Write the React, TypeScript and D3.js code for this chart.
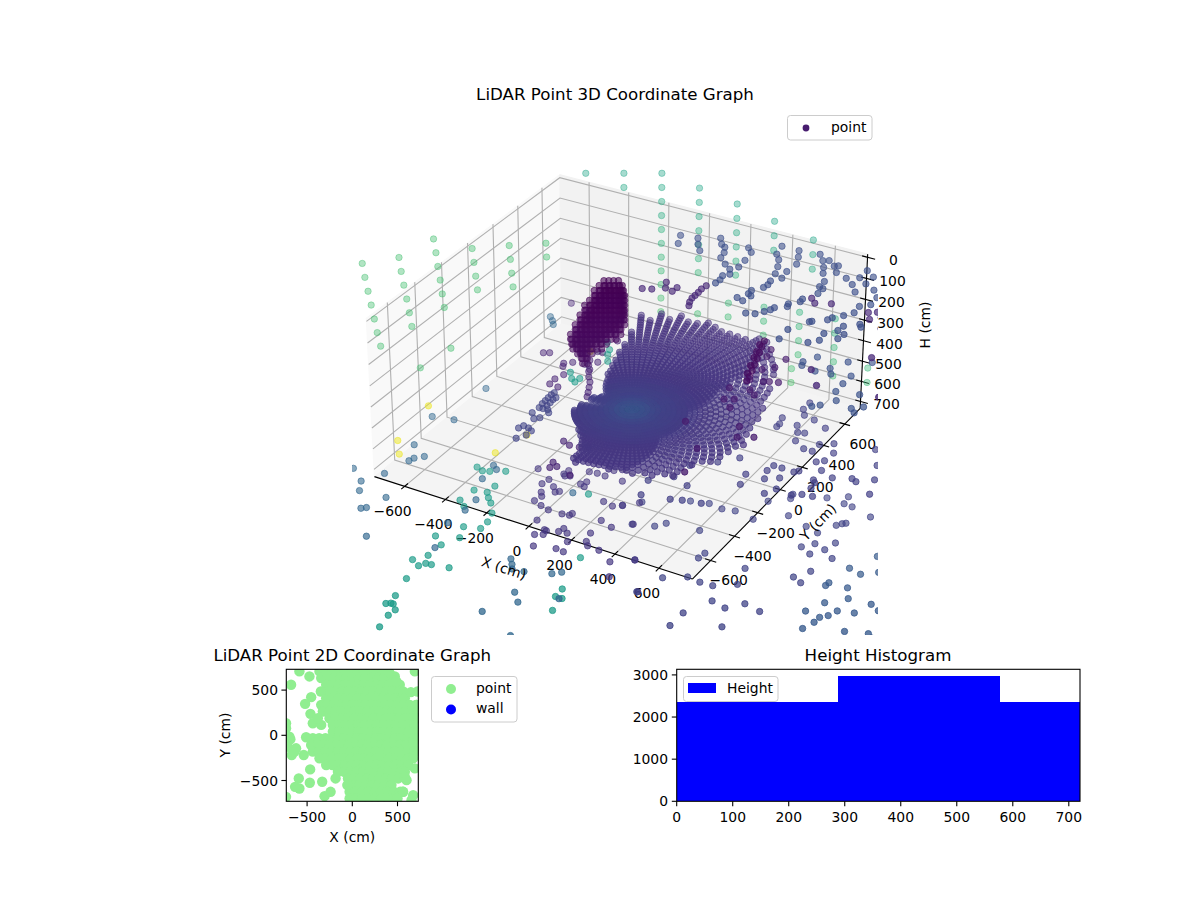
import React, {useEffect, useRef} from 'react'
import * as d3 from 'd3'

type P = [number, number, number]

const xTicks = [-600, -400, -200, 0, 200, 400, 600]
const yTicks = [-600, -400, -200, 0, 200, 400, 600]
const hTicks = [0, 100, 200, 300, 400, 500, 600, 700]

// far wall columns: x, y and the heights seen in that column
const backColX = [-694, -548, -402, -187, 29, 4, 245, 215, 467, 426, 403, 638, 838]
const backColY = [880, 965, 1049, 1003, 949, 934, 884, 866, 812, 788, 775, 699, 613]
const backColH = [
  [20],
  [20, 90],
  [20, 90, 160, 230, 300, 370, 440, 510, 580, 650, 720],
  [20, 90, 160, 230, 300, 370, 440, 650],
  [20, 90, 160, 230, 300, 370],
  [510, 580],
  [20, 90, 160],
  [440, 510, 580],
  [20, 90, 160],
  [370, 440, 510, 580],
  [650, 720],
  [300, 370, 440, 510, 580],
  [440, 510],
]

const leftWall: P[] = [
  [-1068, -319, 20], [-1061, -315, 86], [-1052, -310, 152], [-1043, -305, 218], [-1034, -300, 285], [-1026, -295, 351], [-1016, -289, 417],
  [-965, -198, 20], [-959, -195, 86], [-952, -190, 152], [-943, -186, 218], [-936, -181, 285], [-929, -177, 351],
  [-932, 15, 20], [-925, 19, 86], [-920, 22, 152], [-913, 26, 218], [-907, 29, 285], [-901, 32, 351],
  [-743, 23, 20], [-738, 26, 86], [-733, 29, 152], [-728, 32, 218],
  [-622, 124, 20], [-619, 126, 86], [-615, 128, 152], [-611, 130, 218],
  [-499, 220, 20], [-497, 221, 86],
  [-878, 38, 549], [-899, -170, 549],
]

const yellowFloor: P[] = [
  [-838, -209, 700], [-793, -511, 700], [-727, -598, 700], [-386, -389, 700], [-346, -202, 700], [-476, 543, 700],
]

// blue returns up near the ceiling
const upperScatter: P[] = [
  [-128, 727, 114], [-100, 656, 114], [-50, 741, 114], [-23, 692, 114], [12, 644, 114], [35, 790, 114], [65, 743, 114], [90, 725, 114],
  [111, 680, 114], [121, 631, 114], [164, 590, 114], [203, 559, 114], [226, 596, 114], [221, 662, 114], [224, 520, 114], [204, 493, 114],
  [212, 455, 114], [209, 421, 114], [181, 771, 114], [210, 740, 114], [298, 856, 114], [312, 780, 114], [343, 738, 114], [368, 681, 114],
  [421, 661, 114], [388, 619, 114], [430, 598, 114], [400, 552, 114], [406, 517, 114], [401, 487, 114], [380, 856, 114], [404, 802, 114],
  [427, 741, 114], [473, 871, 114], [509, 825, 114], [532, 839, 114], [539, 772, 114], [573, 805, 114], [587, 816, 114], [606, 758, 114],
  [561, 723, 114], [598, 661, 114], [665, 732, 114], [711, 695, 114], [712, 765, 114], [758, 729, 114], [712, 838, 114], [759, 799, 114],
  [811, 696, 114], [850, 643, 114], [750, 642, 114], [820, 539, 114], [825, 479, 114], [854, 576, 114], [601, 610, 114], [621, 601, 114],
  [622, 553, 114], [370, 438, 114], [372, 407, 114], [390, 395, 114], [347, 354, 114], [380, 341, 114], [440, 254, 114], [476, 268, 114],
  [500, 304, 114], [515, 330, 114], [521, 354, 114], [563, 389, 114], [556, 412, 114], [590, 453, 114], [588, 478, 114], [766, 396, 114],
  [757, 371, 114], [707, 328, 114], [700, 319, 114], [653, 218, 114], [658, 131, 114], [772, 163, 114], [804, 202, 114], [795, 261, 114],
  [863, 251, 114], [833, 312, 114], [837, 355, 114], [888, 403, 114], [902, 384, 114], [869, 295, 114], [798, 436, 114],
]

const rightEdge: P[] = [
  [645, 524, 398], [610, 459, 398], [620, 429, 398], [689, 414, 398], [733, 466, 398], [757, 425, 398], [775, 551, 398], [837, 452, 398], [835, 379, 398],
  [864, 598, 398], [934, 333, 398], [991, 252, 398], [838, 307, 398], [872, 242, 398], [831, 177, 398], [806, 151, 398], [953, 216, 398], [978, 191, 398],
]

const upperPurple: P[] = [
  [27, 324, 114], [49, 277, 114], [-33, 225, 114], [4, 241, 114], [87, 267, 114], [89, 305, 114],
  [187, 380, 114], [183, 345, 114], [186, 313, 114], [187, 283, 114], [187, 256, 114], [195, 222, 114], [208, 192, 114],
  [618, 503, 114], [648, 472, 114], [710, 501, 114], [875, 510, 114], [906, 531, 114], [939, 497, 114], [978, 414, 114], [904, 460, 114],
  [1048, 180, 114], [1138, 114, 114], [882, -26, 114], [956, -127, 114], [1207, -87, 114],
]

const streak: P[] = [
  [388, 535, 398], [402, 485, 398], [416, 436, 398], [431, 387, 398], [445, 337, 398], [460, 287, 398], [474, 238, 398], [480, 202, 398],
  [386, 496, 398], [402, 437, 398], [416, 387, 398], [435, 321, 398], [454, 256, 398],
]

const nearStreak: P[] = [
  [447, 483, 398], [530, 357, 398], [459, 422, 398], [539, 441, 398], [491, 316, 398], [486, 217, 398], [542, 229, 398], [564, 242, 398], [600, 254, 398],
  [445, 115, 398], [469, 23, 398], [505, 44, 398], [521, -24, 398], [417, -210, 398], [558, -369, 398], [600, -548, 398], [625, -137, 398], [656, -215, 398],
  [714, -181, 398], [525, 143, 398], [560, 115, 398],
]

const floorScatter: P[] = [
  [567, 630, 700], [567, 569, 700], [647, 513, 700], [718, 476, 700], [593, 527, 700], [521, 461, 700], [534, 411, 700], [534, 385, 700],
  [604, 437, 700], [632, 387, 700], [660, 397, 700], [655, 322, 700], [713, 283, 700], [753, 283, 700], [755, 346, 700], [805, 382, 700],
  [831, 241, 700], [805, 216, 700], [854, 167, 700], [858, 85, 700], [872, 68, 700], [918, 138, 700], [991, 173, 700], [1015, 160, 700],
  [1075, 211, 700], [878, 23, 700], [911, -29, 700], [867, -37, 700], [832, -64, 700], [758, -53, 700], [731, -107, 700], [614, -95, 700],
  [597, -15, 700], [660, 54, 700], [666, 102, 700], [704, 102, 700], [731, 29, 700], [680, -8, 700], [761, 99, 700], [775, 117, 700],
  [452, 11, 700], [516, 85, 700], [365, -70, 700], [350, -180, 700], [430, -213, 700], [272, -257, 700], [420, -337, 700], [466, -319, 700],
  [544, -301, 700], [301, -367, 700], [976, 427, 700], [1036, 317, 700], [1105, 102, 700], [837, 314, 700],
]

const lowerRight: P[] = [
  [653, 319, 965], [660, 284, 965], [302, 55, 965], [380, 78, 965], [446, 68, 965], [502, 82, 965], [128, -54, 965], [70, -118, 965],
  [177, -223, 965], [266, -189, 965], [297, -146, 965], [444, -124, 965], [597, 63, 965], [587, 218, 965], [713, 161, 965], [814, 125, 965],
  [877, 105, 965], [866, -22, 965], [920, -52, 965], [904, 27, 965], [959, 7, 965], [975, 74, 965], [1014, -36, 965], [980, -163, 965],
  [938, -235, 965], [982, -257, 965], [739, -278, 965], [766, -395, 965], [684, -453, 965], [544, -262, 965], [538, -306, 965], [566, -449, 965],
  [481, -505, 965], [319, -448, 965], [440, -644, 965], [627, -457, 965], [733, -549, 965], [801, -567, 965], [856, -501, 965], [932, -519, 965],
  [673, -680, 965], [670, -782, 965], [852, -687, 965], [787, -823, 965], [791, 366, 965], [874, 361, 965], [914, 356, 965], [866, 419, 965],
  [919, 195, 965], [935, 218, 965], [947, 230, 965], [1015, 324, 965],
]

const farLowerRight: P[] = [
  [1168, 71, 965], [1223, -32, 965], [1165, -81, 965], [1107, -64, 965], [1081, -200, 965], [1078, -224, 965], [1162, -195, 965], [1198, -262, 965],
  [1129, -335, 965], [1089, -425, 965], [1157, -436, 965], [1181, -408, 965], [1198, -361, 965], [1263, -340, 965], [1295, -252, 965], [1339, -278, 965],
  [1153, -477, 965], [1133, -538, 965], [1285, -473, 965], [1373, -440, 965], [1396, -460, 965],
]

const tealLeft: P[] = [
  [-625, -168, 965], [-589, -182, 965], [-559, -170, 965], [-500, -135, 965], [-477, -259, 965], [-537, -330, 965], [-479, -317, 965], [-452, -350, 965],
  [-421, -380, 965], [-546, -426, 965], [-505, -459, 965], [-375, -444, 965], [-355, -510, 965], [-422, -591, 965], [-353, -567, 965], [-391, -669, 965],
  [-485, -708, 965], [-428, -752, 965], [-432, -844, 965], [-470, -902, 965], [-424, -927, 965], [-408, -898, 965], [-383, -894, 965], [-308, -877, 965],
  [-415, -1029, 965], [-386, -1152, 965], [-372, -1205, 965], [-388, -1217, 965], [-361, -1205, 965], [-331, -1235, 965], [-334, -1280, 965], [-319, -1363, 965],
  [118, -546, 965], [170, -777, 965], [174, -836, 965], [204, -835, 965], [214, -925, 965], [-99, -114, 965],
  [-458, 341, 700], [-425, 297, 700], [-398, 279, 700], [-395, 315, 700], [-452, 652, 700], [-410, 599, 700], [-395, 557, 700], [-365, 506, 700],
]

const steelLeft: P[] = [
  [-1025, 89, 965], [-926, 114, 965], [-950, 416, 965], [-962, -150, 965], [-908, -272, 965], [-901, -243, 965], [-870, -209, 965], [-1081, -443, 965],
  [-942, -410, 965], [-994, -511, 965], [-957, -577, 965], [-829, -565, 965], [-873, -688, 965], [-856, -672, 965], [-732, -853, 965], [-496, -599, 965],
  [-439, -782, 965], [-571, -121, 965], [-542, -143, 965], [-555, -236, 965], [-489, -390, 965], [-485, -481, 965], [-25, -1071, 965], [160, -1155, 965],
  [16, -892, 965], [64, -945, 965], [-124, -696, 965], [-99, -728, 965], [-81, -756, 965], [-29, -748, 965], [77, -704, 965], [106, -675, 965],
  [194, -842, 965], [-162, -138, 965], [-794, 726, 700], [-767, 699, 700], [-745, 670, 700],
]

const indigoFront: P[] = [
  [-390, -48, 965], [-313, -142, 965], [-305, -98, 965], [-281, -201, 965], [-262, -228, 965], [-258, -138, 965], [-230, -171, 965], [-217, -157, 965],
  [-271, -272, 965], [-227, -291, 965], [-183, -304, 965], [-183, -395, 965], [-117, -302, 965], [-85, -295, 965], [-81, -278, 965], [-118, -442, 965],
  [-135, -493, 965], [-104, -475, 965], [-107, -445, 965], [-60, -424, 965], [-53, -394, 965], [-23, -417, 965], [11, -471, 965], [-94, -569, 965],
  [-3, -539, 965], [35, -544, 965], [78, -431, 965], [99, -456, 965], [156, -461, 965], [238, -512, 965], [290, -607, 965], [320, -450, 965],
  [443, -642, 965], [61, -368, 965], [-169, -62, 965], [-155, -34, 965], [-145, -72, 965], [-260, -40, 965], [-268, 5, 965], [-272, -29, 965],
  [-241, -29, 965], [-187, 42, 965], [-151, 48, 965], [-111, 46, 965], [-100, 103, 965], [-72, 127, 965], [-26, 47, 965], [-14, -132, 965],
  [36, -144, 965], [70, -118, 965], [51, -263, 965], [114, -287, 965], [181, -221, 965], [122, -64, 965],
]

const leftCluster: P[] = [
  [-419, 16, 700], [-425, 51, 700], [-427, 79, 700], [-429, 106, 700], [-431, 135, 700], [-428, 155, 700], [-401, 17, 700], [-399, 47, 700],
  [-400, 75, 700], [-403, 103, 700], [-400, 123, 700], [-379, 20, 700], [-423, -35, 700], [-391, -74, 700], [-373, -54, 700], [-362, 0, 700],
  [-398, -145, 700], [-407, -171, 700], [-371, -150, 700], [-348, -164, 700], [-349, -204, 700], [-372, -247, 700],
]

const darkNearBlob: P[] = [
  [-777, 882, 700], [-650, 429, 700], [-626, 443, 700], [-524, 394, 700], [-513, 369, 700], [-473, 309, 700], [-487, 258, 700], [-440, 205, 700], [-484, 210, 700],
  [-503, 863, 700], [-526, 929, 700], [-419, 685, 700], [-438, 474, 700], [-399, 477, 700], [-440, 433, 700], [-494, 421, 700], [-397, 404, 700], [-447, 558, 700],
  [-424, 561, 700], [-420, 434, 700], [-392, 387, 700], [-368, 347, 700], [-341, 311, 700], [-321, 270, 700], [-303, 231, 700], [-288, 197, 700],
  [-187, -167, 700], [-149, -183, 700], [-105, -176, 700], [-72, -157, 700], [-139, -332, 700], [-108, -353, 700], [-129, -374, 700], [-27, -383, 700],
]

// dense dark object: columns of returns at these floor spots
const blobX = [-439, -421, -403, -385, -367, -349, -331, -313, -295, -277, -259, -245]
const blobY = [323, 333, 344, 354, 365, 375, 386, 396, 407, 417, 428, 436]
const blobTop = [516, 469, 422, 374, 337, 299, 261, 256, 256, 256, 256, 266]
const blobBottom = [554, 573, 630, 630, 582, 563, 554, 530, 511, 502, 478, 441]
const blobRows = [256, 280, 304, 328, 352, 376, 400, 424, 448, 472, 496, 520, 544, 568, 592, 616, 640]
const blobLayers = [0, 14, -14]

// scan fan around the sensor, one beam every 3 deg from -165 to 180: how far it reaches, how far it stays dense
const fanStart = -165
const fanStep = 3
const fanReach = [
  230, 232, 236, 239, 242, 245, 247, 249, 250, 252, 253, 254, 255, 256, 258, 260, 265, 272, 280, 288, 300, 320, 345, 370, 440, 475, 455, 440, 450, 447, 455, 472,
  460, 457, 475, 485, 480, 490, 525, 510, 510, 545, 530, 490, 490, 505, 495, 505, 537, 525, 520, 525, 530, 510, 530, 530, 530, 515, 512, 520, 518, 517, 515, 528,
  533, 540, 550, 558, 580, 592, 605, 620, 636, 655, 685, 710, 745, 765, 780, 810, 845, 850, 800, 810, 805, 800, 835, 850, 825, 815, 870, 820, 870, 800, 840, 690,
  580, 510, 450, 400, 365, 330, 295, 270, 245, 230, 215, 190, 170, 175, 180, 190, 195, 200, 204, 206,
]
const fanDense = [
  230, 232, 236, 239, 242, 245, 247, 249, 250, 252, 253, 254, 255, 256, 258, 260, 265, 272, 280, 288, 300, 320, 345, 370, 440, 475, 455, 440, 450, 447, 455, 472,
  460, 457, 440, 420, 400, 380, 360, 340, 320, 300, 280, 260, 250, 230, 230, 230, 230, 230, 230, 230, 230, 230, 230, 230, 230, 230, 230, 230, 230, 230, 230, 230,
  230, 230, 240, 260, 280, 300, 320, 340, 360, 380, 440, 500, 600, 650, 720, 810, 845, 850, 800, 810, 805, 800, 835, 850, 825, 815, 870, 820, 870, 800, 840, 690,
  580, 510, 450, 400, 365, 330, 295, 270, 245, 230, 215, 190, 170, 175, 180, 190, 195, 200, 204, 206,
]
const fanRings = [
  22, 44, 66, 88, 110, 132, 154, 176, 198, 220, 242, 264, 286, 308, 330, 352, 374, 396, 418, 440, 462, 484, 506, 528, 550, 572, 594, 616, 638, 660, 682, 704,
  726, 748, 770, 792, 814, 836, 858,
]
const fanApexX = 36
const fanApexY = 21
const fanHeight = 587

// 2D panel: filled rows (y, from x, to x) and the loose blobs around them
const massY = [707, 633, 559, 485, 411, 337, 263, 189, 115, 41, -33, -107, -181, -255, -329, -403, -477, -551, -625, -699]
const massFrom = [-363, -344, -289, -252, -289, -344, -326, -252, -215, -215, -437, -455, -437, -363, -289, -159, -48, 7, -30, -30]
const massTo = [396, 414, 525, 562, 581, 710, 729, 729, 729, 729, 729, 729, 729, 673, 618, 581, 507, 433, 560, 500]
const looseX = [-677, -585, -474, -348, -455, -522, -463, -437, -344, -381, -685, -733, -511, -670, -622, -537, -466, -592, -470, -333, -185, -633, -585, -307, -240, -55, -733, -733, -714, 470, 488, 692, 648, 722, 414, 581, 692, 600, -696, -640, 562, 673, 655]
const looseY = [559, 707, 651, 485, 422, 348, 237, 133, 115, 189, -44, 78, -22, -218, -144, -218, -377, -477, -525, -514, -477, -570, -588, -673, -625, -551, -681, 133, -126, 651, 596, 707, 477, 485, 688, -459, -366, -496, -15, -181, -625, -662, -718]

const histEdges = [0, 288, 578, 720]
const histCounts = [2346, 2984, 2368]

const FONT = '"DejaVu Sans", sans-serif'
const minus = (t: number) => String(t).replace('-', '\u2212')

// view of a matplotlib 3D box (elev 30, azim -60)
const worldX = d3.scaleLinear().domain([-750, 750]).range([-0.635, 0.635])
const worldY = d3.scaleLinear().domain([-750, 750]).range([-0.635, 0.635])
const worldH = d3.scaleLinear().domain([-15, 735]).range([0.3176, -0.3176])
const screenX = d3.scaleLinear().domain([-0.095, 0.09]).range([352, 878])
const screenY = d3.scaleLinear().domain([-0.095, 0.09]).range([635, 109])

function project(x: number, y: number, h: number) {
  const p = worldX(x)
  const q = worldY(y)
  const r = worldH(h)
  const vx = 0.866 * p + 0.5 * q
  const vy = -0.25 * p + 0.433 * q + 0.866 * r
  const d = 10 - (0.433 * p - 0.75 * q + 0.5 * r)
  return {sx: screenX(vx / d), sy: screenY(vy / d), d}
}

interface Dot {
  x: number
  y: number
  h: number
  tone: number
  fixedAlpha?: number
}

function buildDots() {
  const dots: Dot[] = []
  const add = (list: P[], tone: number, fixedAlpha?: number) => list.forEach(([x, y, h]) => dots.push({x, y, h, tone, fixedAlpha}))
  const backTone = d3.scaleLinear().domain([0, 740]).range([0.58, 0.72])
  backColX.forEach((x, i) => backColH[i].forEach((h) => dots.push({x, y: backColY[i], h, tone: backTone(h), fixedAlpha: 0.4})))
  add(leftWall, 0.7, 0.42)
  add(yellowFloor, 0.97, 0.5)
  add(upperScatter, 0.24)
  add(rightEdge, 0.25)
  add(upperPurple, 0.11)
  add(streak, 0.03)
  add(nearStreak, 0.08)
  add(floorScatter, 0.19)
  add(lowerRight, 0.2)
  add(farLowerRight, 0.28)
  add(tealLeft, 0.55)
  add(steelLeft, 0.33)
  add(indigoFront, 0.16)
  add(leftCluster, 0.2)
  add(darkNearBlob, 0.1)
  const blobTone = d3.scaleLinear().domain([250, 650]).range([0.0, 0.04])
  blobX.forEach((x, i) =>
    blobRows.forEach((h) => {
      if (h < blobTop[i] || h > blobBottom[i]) return
      blobLayers.forEach((o) => dots.push({x: x + o, y: blobY[i] - o, h: h + o, tone: blobTone(h)}))
    }),
  )
  const fanTone = d3.scaleLinear().domain([0, 120, 300, 850]).range([0.27, 0.2, 0.16, 0.14])
  fanReach.forEach((reach, i) => {
    const a = ((fanStart + i * fanStep) * Math.PI) / 180
    fanRings.forEach((r, k) => {
      if (r > reach) return
      if (r > fanDense[i] && (k + i) % 2 !== 0) return
      dots.push({x: fanApexX + r * Math.cos(a), y: fanApexY + r * Math.sin(a), h: fanHeight, tone: fanTone(r)})
    })
  })
  return dots
}

function Chart3D() {
  const ref = useRef<SVGGElement>(null)

  useEffect(() => {
    const g = d3.select(ref.current)
    const line = d3.line<number[]>().x((d) => project(d[0], d[1], d[2]).sx).y((d) => project(d[0], d[1], d[2]).sy)

    const panes = [
      {fill: '#f9f9f9', pts: [[-750, -750, 735], [-750, 750, 735], [-750, 750, -15], [-750, -750, -15]]},
      {fill: '#f2f2f2', pts: [[-750, 750, 735], [750, 750, 735], [750, 750, -15], [-750, 750, -15]]},
      {fill: '#f4f4f4', pts: [[-750, -750, 735], [750, -750, 735], [750, 750, 735], [-750, 750, 735]]},
    ]
    g.selectAll('path.pane')
      .data(panes)
      .join('path')
      .attr('class', 'pane')
      .attr('d', (d) => line(d.pts) + 'Z')
      .attr('fill', (d) => d.fill)
      .attr('stroke', (d) => d.fill)

    const grids: number[][][] = []
    xTicks.forEach((t) => grids.push([[t, -750, 735], [t, 750, 735], [t, 750, -15]]))
    yTicks.forEach((t) => grids.push([[750, t, 735], [-750, t, 735], [-750, t, -15]]))
    hTicks.forEach((t) => grids.push([[-750, -750, t], [-750, 750, t], [750, 750, t]]))
    g.selectAll('path.grid')
      .data(grids)
      .join('path')
      .attr('class', 'grid')
      .attr('d', (d) => line(d))
      .attr('fill', 'none')
      .attr('stroke', '#b0b0b0')
      .attr('stroke-width', 1.1)

    const axes = [
      [[-750, -750, 735], [750, -750, 735]],
      [[750, -750, 735], [750, 750, 735]],
      [[750, 750, 735], [750, 750, -15]],
    ]
    const tickLines: number[][][] = [
      ...xTicks.map((t) => [[t, -725, 735], [t, -775, 735]]),
      ...yTicks.map((t) => [[725, t, 735], [775, t, 735]]),
      ...hTicks.map((t) => [[725, 750, t], [785, 750, t]]),
    ]
    g.selectAll('path.axis')
      .data([...axes, ...tickLines])
      .join('path')
      .attr('class', 'axis')
      .attr('d', (d) => line(d))
      .attr('fill', 'none')
      .attr('stroke', '#000')
      .attr('stroke-width', 1.1)

    const labels = [
      ...xTicks.map((t) => {
        const p = project(t, -750, 735)
        return {t: minus(t), x: p.sx - 12, y: p.sy + 25}
      }),
      ...yTicks.map((t) => {
        const p = project(750, t, 735)
        return {t: minus(t), x: p.sx + 18, y: p.sy + 20}
      }),
      ...hTicks.map((t) => {
        const p = project(750, 750, t)
        return {t: minus(t), x: p.sx + 26, y: p.sy + 3}
      }),
    ]
    g.selectAll('text.tick')
      .data(labels)
      .join('text')
      .attr('class', 'tick')
      .attr('x', (d) => d.x)
      .attr('y', (d) => d.y)
      .attr('text-anchor', 'middle')
      .attr('dominant-baseline', 'central')
      .attr('font-size', 13.9)
      .attr('font-family', FONT)
      .text((d) => d.t)

    const alpha = d3.scaleLinear().domain([9.4, 11]).range([0.8, 0.42]).clamp(true)
    const dots = buildDots()
      .map((d) => ({...d, ...project(d.x, d.y, d.h)}))
      .sort((a, b) => b.d - a.d)
    const dotAlpha = (d: {fixedAlpha?: number; d: number}) => d.fixedAlpha ?? alpha(d.d)
    g.append('g')
      .attr('clip-path', 'url(#clip3d)')
      .selectAll('circle')
      .data(dots)
      .join('circle')
      .attr('cx', (d) => d.sx)
      .attr('cy', (d) => d.sy)
      .attr('r', 3.2)
      .attr('fill', (d) => d3.interpolateViridis(d.tone))
      .attr('fill-opacity', dotAlpha)
      .attr('stroke', (d) => d3.interpolateViridis(d.tone))
      .attr('stroke-opacity', dotAlpha)
      .attr('stroke-width', 1)
  }, [])

  return (
    <>
      <defs>
        <clipPath id="clip3d">
          <rect x={352} y={109} width={526} height={526} />
        </clipPath>
      </defs>
      <g ref={ref} />
      <text x={615} y={100} textAnchor="middle" fontSize={16.67} fontFamily={FONT}>
        LiDAR Point 3D Coordinate Graph
      </text>
      <text x={504} y={568} textAnchor="middle" dominantBaseline="central" fontSize={13.9} fontFamily={FONT} transform="rotate(18 504 568)">
        X (cm)
      </text>
      <text x={818} y={522} textAnchor="middle" dominantBaseline="central" fontSize={13.9} fontFamily={FONT} transform="rotate(-46 818 522)">
        Y (cm)
      </text>
      <text x={925} y={325} textAnchor="middle" dominantBaseline="central" fontSize={13.9} fontFamily={FONT} transform="rotate(-90 925 325)">
        H (cm)
      </text>
      <rect x={787.5} y={115.5} width={84.5} height={24.5} rx={3} fill="#fff" stroke="#ccc" />
      <circle cx={806} cy={128} r={3.4} fill={d3.interpolateViridis(0.08)} />
      <text x={831} y={132} fontSize={13.9} fontFamily={FONT}>
        point
      </text>
    </>
  )
}

function Scatter2D() {
  const x = d3.scaleLinear().domain([-730, 730]).range([286.3, 418.3])
  const y = d3.scaleLinear().domain([-730, 730]).range([801.3, 669.3])
  const massDots: number[][] = []
  massY.forEach((v, i) => {
    d3.range(massFrom[i], massTo[i] + 1, 70).forEach((u) => massDots.push([u, v]))
    massDots.push([massTo[i], v])
  })
  looseX.forEach((u, i) => massDots.push([u, looseY[i]]))
  const ticks = [-500, 0, 500]
  return (
    <g fontFamily={FONT} fontSize={13.9}>
      <defs>
        <clipPath id="clip2d">
          <rect x={286.3} y={669.3} width={132} height={132} />
        </clipPath>
      </defs>
      <g clipPath="url(#clip2d)">
        {massDots.map((d, i) => (
          <circle key={i} cx={x(d[0])} cy={y(d[1])} r={5.2} fill="#90ee90" />
        ))}
      </g>
      <rect x={286.3} y={669.3} width={132} height={132} fill="none" stroke="#000" strokeWidth={1.1} />
      {ticks.map((t) => (
        <g key={t}>
          <line x1={x(t)} x2={x(t)} y1={801.3} y2={806.2} stroke="#000" strokeWidth={1.1} />
          <text x={x(t)} y={822} textAnchor="middle">
            {minus(t)}
          </text>
          <line x1={281.4} x2={286.3} y1={y(t)} y2={y(t)} stroke="#000" strokeWidth={1.1} />
          <text x={278} y={y(t) + 5} textAnchor="end">
            {minus(t)}
          </text>
        </g>
      ))}
      <text x={352.3} y={842} textAnchor="middle">
        X (cm)
      </text>
      <text x={225} y={735} textAnchor="middle" dominantBaseline="central" transform="rotate(-90 225 735)">
        Y (cm)
      </text>
      <text x={352.3} y={661} textAnchor="middle" fontSize={16.67}>
        LiDAR Point 2D Coordinate Graph
      </text>
      <rect x={431.5} y={676.5} width={85.5} height={45.5} rx={3} fill="#fff" stroke="#ccc" />
      <circle cx={451} cy={689} r={5} fill="#90ee90" />
      <circle cx={451} cy={709.5} r={5} fill="#0000ff" />
      <text x={476} y={693}>
        point
      </text>
      <text x={476} y={713}>
        wall
      </text>
    </g>
  )
}

function Histogram() {
  const x = d3.scaleLinear().domain([0, 720]).range([676.7, 1080])
  const y = d3.scaleLinear().domain([0, 3133]).range([801.3, 669.3])
  return (
    <g fontFamily={FONT} fontSize={13.9}>
      {histCounts.map((c, i) => (
        <rect key={i} x={x(histEdges[i])} y={y(c)} width={x(histEdges[i + 1]) - x(histEdges[i])} height={y(0) - y(c)} fill="#0000ff" shapeRendering="crispEdges" />
      ))}
      <rect x={676.7} y={669.3} width={403.3} height={132} fill="none" stroke="#000" strokeWidth={1.1} />
      {d3.range(0, 701, 100).map((t) => (
        <g key={t}>
          <line x1={x(t)} x2={x(t)} y1={801.3} y2={806.2} stroke="#000" strokeWidth={1.1} />
          <text x={x(t)} y={822} textAnchor="middle">
            {t}
          </text>
        </g>
      ))}
      {[0, 1000, 2000, 3000].map((t) => (
        <g key={t}>
          <line x1={671.8} x2={676.7} y1={y(t)} y2={y(t)} stroke="#000" strokeWidth={1.1} />
          <text x={668} y={y(t) + 5} textAnchor="end">
            {t}
          </text>
        </g>
      ))}
      <text x={878} y={661} textAnchor="middle" fontSize={16.67}>
        Height Histogram
      </text>
      <rect x={683.5} y={676.5} width={94.5} height={25} rx={3} fill="#fff" stroke="#ccc" />
      <rect x={688} y={683} width={28} height={10} fill="#0000ff" />
      <text x={727} y={693}>
        Height
      </text>
    </g>
  )
}

export default function App() {
  return (
    <svg width={1200} height={900} style={{position: 'absolute', left: 0, top: 0, display: 'block', background: '#fff'}}>
      <Chart3D />
      <Scatter2D />
      <Histogram />
    </svg>
  )
}
